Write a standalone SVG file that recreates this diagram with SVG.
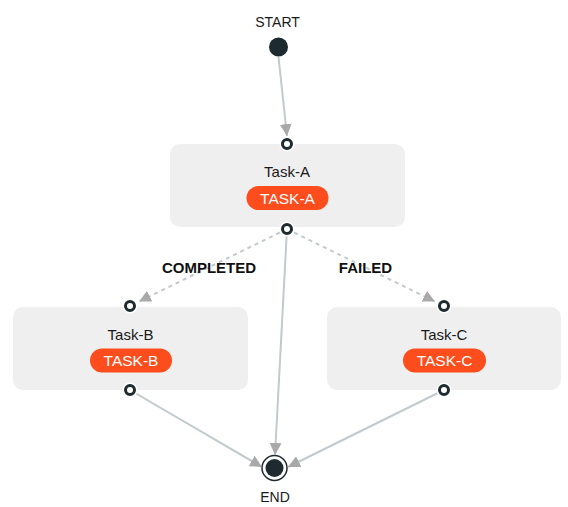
<svg xmlns="http://www.w3.org/2000/svg" width="568" height="507" viewBox="0 0 568 507">
<style>
.box{fill:#efefef}
.pill{fill:#fd4d1d}
.title{font-family:"Liberation Sans",Arial,sans-serif;font-size:15px;fill:#1a1a1a;text-anchor:middle}
.tag{font-family:"Liberation Sans",Arial,sans-serif;font-size:15.5px;fill:#ffffff;text-anchor:middle}
.lbl{font-family:"Liberation Sans",Arial,sans-serif;font-size:15px;font-weight:bold;fill:#111;text-anchor:middle}
.term{font-family:"Liberation Sans",Arial,sans-serif;font-size:14px;fill:#1a1a1a;text-anchor:middle}
.solid{stroke:#c2cace;stroke-width:2;fill:none}
.dash{stroke:#c2cace;stroke-width:2;fill:none;stroke-dasharray:4 4}
.port-bg{fill:#ffffff}
.port{fill:#ffffff;stroke:#1d2a30;stroke-width:3}
</style>
<defs>
<marker id="arr" markerUnits="userSpaceOnUse" markerWidth="12" markerHeight="12" viewBox="0 0 10 10" refX="10" refY="5" orient="auto">
<path d="M0,0 L10,5 L0,10 z" fill="#a9a9a9"/>
</marker>
</defs>
<rect width="568" height="507" fill="#ffffff"/>
<g id="connectors">
<line class="solid" x1="278.5" y1="57" x2="287" y2="136" marker-end="url(#arr)"/>
<line class="dash" x1="287" y1="229" x2="139" y2="301.5" marker-end="url(#arr)"/>
<line class="dash" x1="287" y1="229" x2="435" y2="301.5" marker-end="url(#arr)"/>
<line class="solid" x1="287" y1="229" x2="275" y2="455" marker-end="url(#arr)"/>
<line class="solid" x1="130" y1="390" x2="262" y2="467" marker-end="url(#arr)"/>
<line class="solid" x1="444" y1="390" x2="288" y2="467" marker-end="url(#arr)"/>
<text class="lbl" x="209" y="273">COMPLETED</text>
<text class="lbl" x="365.5" y="273">FAILED</text>
</g>
<g id="start">
<text class="term" x="277.5" y="26.5">START</text>
<circle cx="278.5" cy="47" r="9.5" fill="#1d2a30"/>
</g>
<g id="task-a">
<rect class="box" x="170" y="144" width="235" height="83" rx="10"/>
<text class="title" x="287" y="177">Task-A</text>
<rect class="pill" x="246.5" y="186" width="82" height="24" rx="12"/>
<text class="tag" x="287.5" y="203.5">TASK-A</text>
<circle class="port-bg" cx="287" cy="144" r="7.5"/>
<circle class="port" cx="287" cy="144" r="4.5"/>
<circle class="port-bg" cx="287" cy="229" r="7.5"/>
<circle class="port" cx="287" cy="229" r="4.5"/>
</g>
<g id="task-b">
<rect class="box" x="13" y="307" width="235" height="83" rx="10"/>
<text class="title" x="130.5" y="339.5">Task-B</text>
<rect class="pill" x="90" y="348.5" width="82" height="24" rx="12"/>
<text class="tag" x="131" y="366">TASK-B</text>
<circle class="port-bg" cx="130" cy="306" r="7.5"/>
<circle class="port" cx="130" cy="306" r="4.5"/>
<circle class="port-bg" cx="130" cy="390" r="7.5"/>
<circle class="port" cx="130" cy="390" r="4.5"/>
</g>
<g id="task-c">
<rect class="box" x="327" y="307" width="234" height="83" rx="10"/>
<text class="title" x="444" y="339.5">Task-C</text>
<rect class="pill" x="403" y="348.5" width="83" height="24" rx="12"/>
<text class="tag" x="444.5" y="366">TASK-C</text>
<circle class="port-bg" cx="444" cy="306" r="7.5"/>
<circle class="port" cx="444" cy="306" r="4.5"/>
<circle class="port-bg" cx="444" cy="390" r="7.5"/>
<circle class="port" cx="444" cy="390" r="4.5"/>
</g>
<g id="end">
<circle cx="274.5" cy="468" r="13.5" fill="#ffffff"/>
<circle cx="274.5" cy="468" r="12.5" fill="none" stroke="#1d2a30" stroke-width="1.5"/>
<circle cx="274.5" cy="468" r="9" fill="#1d2a30"/>
<text class="term" x="275" y="502">END</text>
</g>
</svg>
